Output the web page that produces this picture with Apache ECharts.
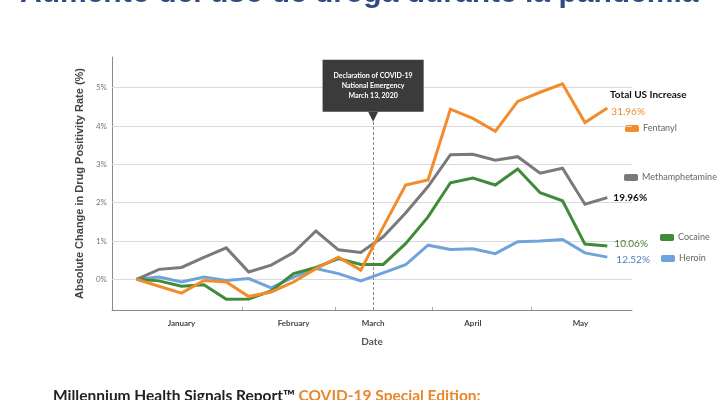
<!DOCTYPE html>
<html>
<head>
<meta charset="utf-8">
<script src="https://cdn.jsdelivr.net/npm/echarts@6/dist/echarts.min.js"></script>
<style>html,body{margin:0;padding:0;background:#fff}#c{width:722px;height:400px}</style>
</head>
<body>
<div id="c"></div>
<script>
// ---- data ----
var weekIndex = [0,1,2,3,4,5,6,7,8,9,10,11,12,13,14,15,16,17,18,19,20,21];
var fentanyl = [0,-0.18,-0.36,-0.03,-0.07,-0.45,-0.33,-0.07,0.28,0.58,0.24,1.37,2.46,2.59,4.44,4.20,3.86,4.64,4.88,5.10,4.09,4.47];
var methamphetamine = [0,0.26,0.31,0.57,0.82,0.19,0.37,0.70,1.26,0.77,0.70,1.11,1.73,2.42,3.25,3.26,3.11,3.20,2.77,2.90,1.96,2.13];
var cocaine = [0,-0.04,-0.18,-0.14,-0.52,-0.51,-0.30,0.15,0.31,0.54,0.39,0.39,0.93,1.63,2.52,2.64,2.46,2.88,2.26,2.05,0.92,0.87];
var heroin = [0,0.06,-0.07,0.06,-0.03,0.02,-0.22,0.06,0.28,0.15,-0.04,0.17,0.38,0.89,0.78,0.80,0.67,0.98,1.00,1.04,0.69,0.58];
var seriesNames = ['Fentanyl','Methamphetamine','Cocaine','Heroin'];
var totals = ['31.96%','19.96%','10.06%','12.52%'];
var monthLabels = ['January','February','March','April','May'];
var monthPos = [2,7,10.55,15,19.8];
var monthTicks = [4.69,8.88,13.2,17.6];
var yTicks = [0,1,2,3,4,5];
var eventX = 10.55;
var eventTop = 4.11;
var eventText = 'Declaration of COVID-19\nNational Emergency\nMarch 13, 2020';

function pairs(vals){ return weekIndex.map(function(x,i){ return [x, vals[i]]; }); }

var colors = ['#F28C2B','#7A7A7A','#3F8B39','#6FA3DB'];
var endColors = ['#E8892F','#111111','#4C7A2E','#4F7DBB'];
var endOffsets = [[0,4],[2,0],[3,-2],[5,3]];
var endWeights = ['normal','bold','normal','normal'];
var allVals = [fentanyl, methamphetamine, cocaine, heroin];

var chart = echarts.init(document.getElementById('c'));

var series = [{
  name: 'grid', type: 'line', data: [], z: 1, silent: true,
  markLine: {
    silent: true, symbol: ['none','none'], label: {show:false},
    lineStyle: {color:'#dadada', width:1, type:'solid'},
    data: yTicks.map(function(v){ return {yAxis: v}; })
  }
},{
  name: 'event', type: 'line', data: [], z: 2, silent: true,
  markLine: {
    silent: true, symbol: ['none','none'],
    lineStyle: {color:'#888', width:1, type:[3,2]},
    label: {
      show: true, position: 'end', distance: 10,
      formatter: eventText,
      backgroundColor: '#3b3b3b', color: '#fff',
      fontSize: 7, fontWeight: 'bold', lineHeight: 10,
      fontFamily: 'Lato', padding: [11,11], align: 'center'
    },
    data: [[{coord:[eventX,-0.8]},{coord:[eventX,eventTop]}]]
  },
  markPoint: {
    silent: true,
    symbol: 'path://M0,0 L10,0 L5,10 Z', symbolSize: [10,10], symbolOffset: [0,-5],
    itemStyle: {color:'#3b3b3b'}, label: {show:false},
    data: [{coord:[eventX,eventTop]}]
  }
}];

allVals.forEach(function(vals,i){
  series.push({
    name: seriesNames[i], type: 'line', data: pairs(vals), z: 8 - i,
    symbol: 'none', showSymbol: false,
    lineStyle: {width: 3, color: colors[i], join: 'miter'},
    itemStyle: {color: colors[i]},
    endLabel: {
      show: true, formatter: totals[i], color: endColors[i],
      fontSize: 10, fontWeight: endWeights[i], fontFamily: 'Lato',
      offset: endOffsets[i], distance: 4
    }
  });
});

var legendPos = [[625,124],[624,173],[660,233],[661,254]];
var legends = seriesNames.map(function(n,i){
  return {
    data: [n], left: legendPos[i][0], top: legendPos[i][1], padding: 0,
    icon: 'roundRect', itemWidth: 14, itemHeight: 7, itemGap: 4,
    textStyle: {color:'#666', fontSize: 9, fontFamily: 'Lato', padding: [0,0,0,-1]},
    selectedMode: false
  };
});

chart.setOption({
  animation: false,
  title: [{
    text: 'Aumento del uso de droga durante la pandemia',
    left: 20, top: -21, padding: 0,
    textStyle: {color:'#2E4B84', fontSize: 30, fontWeight: 'bold', fontFamily: 'Liberation Sans'}
  },{
    text: 'Total US Increase', left: 610, top: 90, padding: 0,
    textStyle: {color:'#111', fontSize: 10, fontWeight: 'bold', fontFamily: 'Lato'}
  },{
    text: '{a|Millennium Health Signals Report™ }{b|COVID-19 Special Edition:}',
    left: 53, top: 388, padding: 0,
    textStyle: {
      rich: {
        a: {color:'#222', fontSize: 15.5, fontFamily: 'Lato'},
        b: {color:'#E8872A', fontSize: 15.5, fontFamily: 'Lato'}
      }
    }
  }],
  legend: legends,
  grid: {left: 112, right: 90, top: 57, bottom: 90},
  xAxis: {
    type: 'value', min: -1.1, max: 22.1,
    name: 'Date', nameLocation: 'middle', nameGap: 27,
    nameTextStyle: {color:'#555', fontSize: 10, fontFamily: 'Lato', fontWeight: 'bold'},
    axisLine: {show: true, onZero: false, lineStyle: {color:'#8a8a8a', width: 1}},
    axisTick: {show: true, inside: true, length: 3, customValues: monthTicks, lineStyle: {color:'#aaa'}},
    axisLabel: {
      customValues: monthPos, margin: 9, color: '#444', fontSize: 8, fontWeight: 'bold', fontFamily: 'Lato',
      formatter: function(v){
        var best = 0, d = 1e9;
        monthPos.forEach(function(p,i){ if (Math.abs(p-v) < d) { d = Math.abs(p-v); best = i; } });
        return monthLabels[best];
      }
    },
    splitLine: {show: false}
  },
  yAxis: {
    type: 'value', min: -0.8, max: 5.8,
    name: 'Absolute Change in Drug Positivity Rate (%)', nameLocation: 'middle', nameGap: 24,
    nameTextStyle: {color:'#444', fontSize: 11, fontWeight: 'bold', fontFamily: 'Liberation Sans'},
    axisLine: {show: true, onZero: false, lineStyle: {color:'#8a8a8a', width: 1}},
    axisTick: {show: false, customValues: yTicks},
    axisLabel: {customValues: yTicks, margin: 5, color:'#777', fontSize: 8, fontFamily: 'Lato',
      formatter: function(v){ return v + '%'; }},
    splitLine: {show: false}
  },
  series: series
});
</script>
</body>
</html>
